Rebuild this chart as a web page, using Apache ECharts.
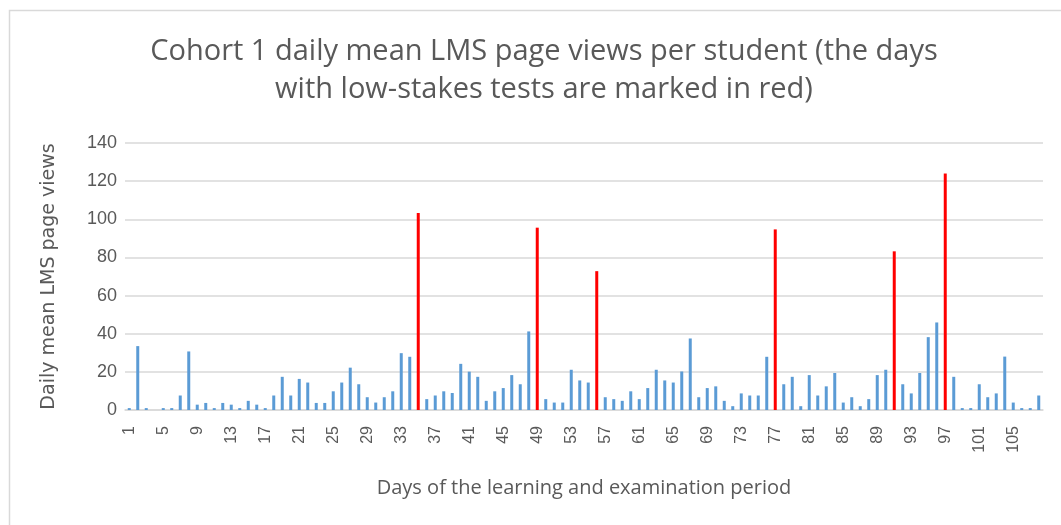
<!DOCTYPE html>
<html>
<head>
<meta charset="utf-8">
<script src="https://cdn.jsdelivr.net/npm/echarts@6/dist/echarts.min.js"></script>
<style>
	html, body { margin: 0; padding: 0; background: #fff; }
	#chart { width: 1061px; height: 525px; }
</style>
</head>
<body>
<div id="chart"></div>
<script>
	// days of the period
	var days = [1, 2, 3, 4, 5, 6, 7, 8, 9, 10, 11, 12, 13, 14, 15, 16, 17, 18, 19, 20,
		21, 22, 23, 24, 25, 26, 27, 28, 29, 30, 31, 32, 33, 34, 35, 36, 37, 38, 39, 40,
		41, 42, 43, 44, 45, 46, 47, 48, 49, 50, 51, 52, 53, 54, 55, 56, 57, 58, 59, 60,
		61, 62, 63, 64, 65, 66, 67, 68, 69, 70, 71, 72, 73, 74, 75, 76, 77, 78, 79, 80,
		81, 82, 83, 84, 85, 86, 87, 88, 89, 90, 91, 92, 93, 94, 95, 96, 97, 98, 99, 100,
		101, 102, 103, 104, 105, 106, 107, 108];
	// daily mean page views
	var views = [1, 33.5, 1, 0, 1, 1, 7.6, 30.7, 2.8, 3.7, 1, 3.7, 2.8, 1, 4.8, 2.8, 1, 7.6, 17.4, 7.6,
		16.3, 14.4, 3.7, 3.7, 9.8, 14.4, 22.2, 13.5, 6.7, 3.9, 6.7, 9.8, 29.8, 27.9, 103.3, 5.7, 7.6, 9.8, 8.9, 24.2,
		20.1, 17.4, 4.8, 9.8, 11.5, 18.3, 13.5, 41.2, 95.6, 5.7, 3.9, 3.9, 21.1, 15.5, 14.4, 72.8, 6.7, 5.7, 4.8, 9.8,
		5.7, 11.5, 21.1, 15.5, 14.4, 20.2, 37.5, 6.7, 11.5, 12.4, 4.8, 2, 8.7, 7.6, 7.6, 27.9, 94.7, 13.5, 17.4, 2,
		18.3, 7.6, 12.4, 19.4, 3.9, 6.7, 2, 5.7, 18.3, 21.1, 83.2, 13.5, 8.7, 19.4, 38.2, 45.9, 124, 17.4, 1, 1,
		13.5, 6.7, 8.7, 28, 3.9, 1, 1, 7.6];
	// days with low-stakes tests
	var testDays = [35, 49, 56, 77, 91, 97];

	var normalData = [];
	var testData = [];
	for (var i = 0; i < days.length; i++) {
		if (testDays.indexOf(days[i]) >= 0) {
			normalData.push('-');
			testData.push(views[i]);
		} else {
			normalData.push(views[i]);
			testData.push('-');
		}
	}

	var myChart = echarts.init(document.getElementById('chart'));
	myChart.setOption({
		animation: false,
		textStyle: { fontFamily: 'Liberation Sans' },
		title: {
			text: 'Cohort 1 daily mean LMS page views per student (the days\nwith low-stakes tests are marked in red)',
			left: 539,
			top: 28,
			textAlign: 'center',
			textStyle: { fontSize: 29, fontWeight: 'normal', color: '#595959', lineHeight: 38, fontFamily: 'Open Sans' }
		},
		graphic: [{
			type: 'rect',
			shape: { x: 9.5, y: 10.5, width: 1080, height: 540 },
			style: { fill: 'none', stroke: '#d9d9d9', lineWidth: 1.5 },
			silent: true
		}],
		grid: { left: 125, right: 18, top: 143, bottom: 115 },
		xAxis: {
			type: 'category',
			data: days,
			name: 'Days of the learning and examination period',
			nameLocation: 'middle',
			nameGap: 68,
			nameTextStyle: { fontSize: 20, color: '#595959', fontFamily: 'Open Sans' },
			axisLine: { lineStyle: { color: '#d9d9d9', width: 1.5 } },
			axisTick: { show: false },
			axisLabel: { interval: 3, rotate: 90, fontSize: 16, color: '#595959', margin: 16 }
		},
		yAxis: {
			type: 'value',
			min: 0,
			max: 140,
			interval: 20,
			name: 'Daily mean LMS page views',
			nameLocation: 'middle',
			nameGap: 66,
			nameTextStyle: { fontSize: 19, color: '#595959', fontFamily: 'DejaVu Sans' },
			axisLine: { show: false },
			axisTick: { show: false },
			axisLabel: { fontSize: 18, color: '#595959', margin: 8 },
			splitLine: { lineStyle: { color: '#d9d9d9', width: 1.5 } }
		},
		series: [{
			name: 'views',
			type: 'bar',
			data: normalData,
			barWidth: 3,
			barGap: '-100%',
			itemStyle: { color: '#5b9bd5' }
		}, {
			name: 'test days',
			type: 'bar',
			data: testData,
			barWidth: 3,
			barGap: '-100%',
			itemStyle: { color: '#ff0000' }
		}]
	});
</script>
</body>
</html>
